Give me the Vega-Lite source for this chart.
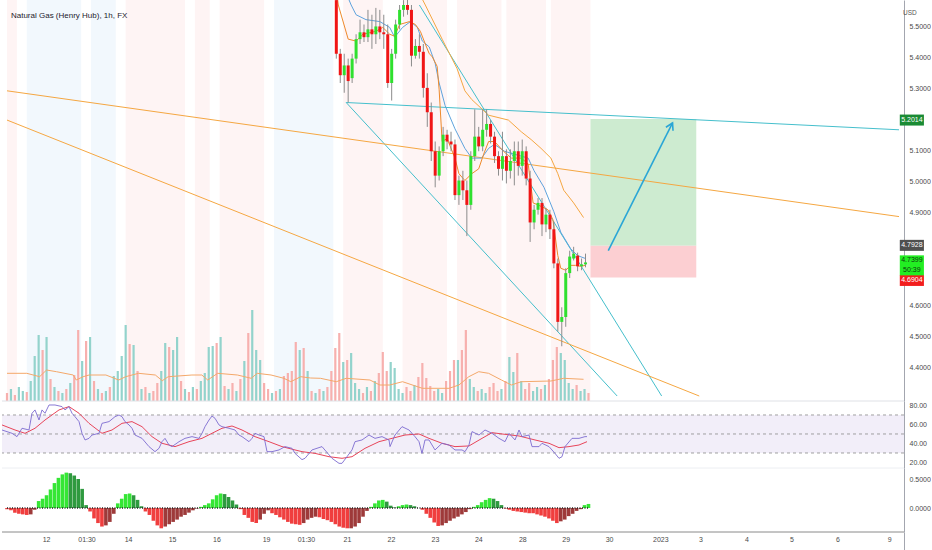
{
  "$schema": "https://vega.github.io/schema/vega-lite/v6.json",
  "description": "Natural Gas (Henry Hub) 1h chart with volume, RSI and momentum panels",
  "padding": 0,
  "background": "#ffffff",
  "spacing": 0,
  "bounds": "flush",
  "config": {
    "view": {"stroke": null},
    "font": "Liberation Sans",
    "axis": {"labelFont": "Liberation Sans", "labelFontSize": 7, "labelColor": "#4a4a4a", "ticks": false, "grid": false, "domainColor": "#a3a6af", "labelPadding": 5}
  },
  "resolve": {"scale": {"y": "independent", "x": "independent"}},
  "datasets": {
    "bg": [
      {"a": 0, "b": 5, "k": "p"}, {"a": 10, "b": 37.5, "k": "b"}, {"a": 42.5, "b": 55, "k": "b"},
      {"a": 60, "b": 90, "k": "p"}, {"a": 95, "b": 102.5, "k": "p"}, {"a": 107.5, "b": 130, "k": "p"},
      {"a": 135, "b": 165, "k": "b"}, {"a": 170, "b": 190, "k": "p"}, {"a": 200, "b": 222.5, "k": "p"},
      {"a": 227.5, "b": 250, "k": "p"}, {"a": 252.5, "b": 272.5, "k": "p"}, {"a": 275, "b": 295, "k": "p"}
    ],
    "bars": [
      {"h":0,"v":8,"d":"d","m":-0.02,"c":"rd"},{"h":2,"v":12,"d":"u","m":-0.04,"c":"rd"},{"h":4,"v":6,"d":"d","m":-0.08,"c":"rd"},
      {"h":6,"v":14,"d":"u","m":-0.10,"c":"rd"},{"h":8,"v":10,"d":"u","m":-0.11,"c":"rd"},{"h":10,"v":9,"d":"d","m":-0.12,"c":"rd"},
      {"h":12,"v":20,"d":"u","m":-0.11,"c":"ru"},{"h":14,"v":45,"d":"u","m":-0.03,"c":"ru"},{"h":16,"v":66,"d":"u","m":0.12,"c":"gu"},
      {"h":18,"v":51,"d":"d","m":0.16,"c":"gu"},{"h":20,"v":64,"d":"u","m":0.22,"c":"gu"},{"h":22,"v":22,"d":"d","m":0.32,"c":"gu"},
      {"h":24,"v":14,"d":"u","m":0.43,"c":"gu"},{"h":26,"v":10,"d":"d","m":0.52,"c":"gu"},{"h":28,"v":8,"d":"u","m":0.58,"c":"gu"},
      {"h":30,"v":12,"d":"d","m":0.61,"c":"gu"},{"h":32,"v":18,"d":"u","m":0.60,"c":"gd"},{"h":34,"v":26,"d":"d","m":0.56,"c":"gd"},
      {"h":36,"v":71,"d":"d","m":0.50,"c":"gd"},{"h":38,"v":40,"d":"u","m":0.33,"c":"gd"},{"h":40,"v":60,"d":"d","m":0.05,"c":"gd"},
      {"h":42,"v":64,"d":"u","m":-0.06,"c":"rd"},{"h":44,"v":20,"d":"d","m":-0.18,"c":"rd"},{"h":46,"v":12,"d":"u","m":-0.26,"c":"rd"},
      {"h":48,"v":8,"d":"d","m":-0.32,"c":"rd"},{"h":50,"v":10,"d":"u","m":-0.30,"c":"ru"},{"h":52,"v":14,"d":"d","m":-0.24,"c":"ru"},
      {"h":54,"v":25,"d":"u","m":-0.10,"c":"ru"},{"h":56,"v":30,"d":"u","m":0.08,"c":"gu"},{"h":58,"v":45,"d":"u","m":0.16,"c":"gu"},
      {"h":60,"v":76,"d":"u","m":0.24,"c":"gu"},{"h":62,"v":57,"d":"d","m":0.25,"c":"gu"},{"h":64,"v":56,"d":"u","m":0.22,"c":"gd"},
      {"h":66,"v":30,"d":"d","m":0.14,"c":"gd"},{"h":68,"v":12,"d":"u","m":0.03,"c":"gd"},{"h":70,"v":14,"d":"d","m":-0.06,"c":"rd"},
      {"h":72,"v":8,"d":"u","m":-0.12,"c":"rd"},{"h":74,"v":10,"d":"d","m":-0.22,"c":"rd"},{"h":76,"v":18,"d":"d","m":-0.30,"c":"rd"},
      {"h":78,"v":30,"d":"u","m":-0.35,"c":"rd"},{"h":80,"v":58,"d":"u","m":-0.32,"c":"ru"},{"h":82,"v":54,"d":"d","m":-0.28,"c":"ru"},
      {"h":84,"v":51,"d":"u","m":-0.24,"c":"ru"},{"h":86,"v":64,"d":"u","m":-0.20,"c":"ru"},{"h":88,"v":20,"d":"d","m":-0.15,"c":"ru"},
      {"h":90,"v":12,"d":"u","m":-0.12,"c":"ru"},{"h":92,"v":9,"d":"d","m":-0.08,"c":"ru"},{"h":94,"v":14,"d":"u","m":-0.04,"c":"ru"},
      {"h":96,"v":12,"d":"d","m":-0.01,"c":"ru"},{"h":98,"v":20,"d":"u","m":0.02,"c":"gu"},{"h":100,"v":28,"d":"u","m":0.05,"c":"gu"},
      {"h":102,"v":54,"d":"u","m":0.08,"c":"gu"},{"h":104,"v":55,"d":"u","m":0.15,"c":"gu"},{"h":106,"v":58,"d":"d","m":0.22,"c":"gu"},
      {"h":108,"v":64,"d":"u","m":0.25,"c":"gu"},{"h":110,"v":15,"d":"d","m":0.24,"c":"gd"},{"h":112,"v":12,"d":"u","m":0.19,"c":"gd"},
      {"h":114,"v":18,"d":"d","m":0.13,"c":"gd"},{"h":116,"v":10,"d":"u","m":0.06,"c":"gd"},{"h":118,"v":22,"d":"d","m":-0.02,"c":"rd"},
      {"h":120,"v":40,"d":"u","m":-0.12,"c":"rd"},{"h":122,"v":68,"d":"d","m":-0.17,"c":"rd"},{"h":124,"v":91,"d":"u","m":-0.24,"c":"rd"},
      {"h":126,"v":51,"d":"u","m":-0.26,"c":"rd"},{"h":128,"v":41,"d":"u","m":-0.20,"c":"ru"},{"h":130,"v":18,"d":"d","m":-0.10,"c":"ru"},
      {"h":132,"v":12,"d":"d","m":-0.04,"c":"ru"},{"h":134,"v":8,"d":"u","m":-0.09,"c":"rd"},{"h":136,"v":10,"d":"d","m":-0.12,"c":"rd"},
      {"h":138,"v":12,"d":"u","m":-0.16,"c":"rd"},{"h":140,"v":25,"d":"d","m":-0.20,"c":"rd"},{"h":142,"v":28,"d":"d","m":-0.24,"c":"rd"},
      {"h":144,"v":30,"d":"d","m":-0.27,"c":"rd"},{"h":146,"v":59,"d":"d","m":-0.28,"c":"rd"},{"h":148,"v":51,"d":"u","m":-0.29,"c":"rd"},
      {"h":150,"v":53,"d":"d","m":-0.26,"c":"ru"},{"h":152,"v":30,"d":"u","m":-0.20,"c":"ru"},{"h":154,"v":10,"d":"d","m":-0.17,"c":"ru"},
      {"h":156,"v":8,"d":"u","m":-0.15,"c":"ru"},{"h":158,"v":12,"d":"d","m":-0.16,"c":"rd"},{"h":160,"v":10,"d":"u","m":-0.19,"c":"rd"},
      {"h":162,"v":14,"d":"d","m":-0.21,"c":"rd"},{"h":164,"v":30,"d":"d","m":-0.24,"c":"rd"},{"h":166,"v":53,"d":"d","m":-0.28,"c":"rd"},
      {"h":168,"v":68,"d":"d","m":-0.32,"c":"rd"},{"h":170,"v":39,"d":"u","m":-0.34,"c":"rd"},{"h":172,"v":41,"d":"d","m":-0.35,"c":"rd"},
      {"h":174,"v":48,"d":"u","m":-0.35,"c":"ru"},{"h":176,"v":18,"d":"u","m":-0.32,"c":"ru"},{"h":178,"v":12,"d":"u","m":-0.26,"c":"ru"},
      {"h":180,"v":8,"d":"d","m":-0.15,"c":"ru"},{"h":182,"v":14,"d":"u","m":-0.05,"c":"ru"},{"h":184,"v":10,"d":"d","m":0.02,"c":"gu"},
      {"h":186,"v":20,"d":"u","m":0.08,"c":"gu"},{"h":188,"v":28,"d":"d","m":0.13,"c":"gu"},{"h":190,"v":49,"d":"d","m":0.14,"c":"gu"},
      {"h":192,"v":30,"d":"d","m":0.11,"c":"gd"},{"h":194,"v":39,"d":"u","m":0.04,"c":"gd"},{"h":196,"v":33,"d":"u","m":0.01,"c":"gd"},
      {"h":198,"v":12,"d":"u","m":0.03,"c":"gu"},{"h":200,"v":8,"d":"u","m":0.05,"c":"gu"},{"h":202,"v":14,"d":"d","m":0.06,"c":"gu"},
      {"h":204,"v":10,"d":"d","m":0.05,"c":"gd"},{"h":206,"v":16,"d":"u","m":0.03,"c":"gd"},{"h":208,"v":24,"d":"d","m":0.0,"c":"gd"},
      {"h":210,"v":38,"d":"d","m":-0.03,"c":"rd"},{"h":212,"v":23,"d":"d","m":-0.10,"c":"rd"},{"h":214,"v":15,"d":"d","m":-0.17,"c":"rd"},
      {"h":216,"v":10,"d":"d","m":-0.25,"c":"rd"},{"h":218,"v":12,"d":"u","m":-0.31,"c":"rd"},{"h":220,"v":8,"d":"u","m":-0.30,"c":"ru"},
      {"h":222,"v":20,"d":"d","m":-0.26,"c":"ru"},{"h":224,"v":30,"d":"d","m":-0.22,"c":"ru"},{"h":226,"v":41,"d":"d","m":-0.18,"c":"ru"},
      {"h":228,"v":41,"d":"u","m":-0.15,"c":"ru"},{"h":230,"v":51,"d":"d","m":-0.11,"c":"ru"},{"h":232,"v":71,"d":"d","m":-0.07,"c":"ru"},
      {"h":234,"v":22,"d":"u","m":-0.02,"c":"ru"},{"h":236,"v":14,"d":"u","m":0.02,"c":"gu"},{"h":238,"v":10,"d":"d","m":0.05,"c":"gu"},
      {"h":240,"v":12,"d":"u","m":0.10,"c":"gu"},{"h":242,"v":8,"d":"u","m":0.14,"c":"gu"},{"h":244,"v":14,"d":"d","m":0.17,"c":"gu"},
      {"h":246,"v":18,"d":"d","m":0.16,"c":"gd"},{"h":248,"v":10,"d":"d","m":0.12,"c":"gd"},{"h":250,"v":12,"d":"u","m":0.05,"c":"gd"},
      {"h":252,"v":20,"d":"d","m":-0.01,"c":"rd"},{"h":254,"v":44,"d":"u","m":-0.03,"c":"rd"},{"h":256,"v":29,"d":"u","m":-0.05,"c":"rd"},
      {"h":258,"v":48,"d":"d","m":-0.06,"c":"rd"},{"h":260,"v":20,"d":"u","m":-0.07,"c":"rd"},{"h":262,"v":12,"d":"d","m":-0.08,"c":"rd"},
      {"h":264,"v":18,"d":"d","m":-0.09,"c":"rd"},{"h":266,"v":10,"d":"u","m":-0.09,"c":"rd"},{"h":268,"v":14,"d":"u","m":-0.11,"c":"rd"},
      {"h":270,"v":12,"d":"d","m":-0.13,"c":"rd"},{"h":272,"v":16,"d":"u","m":-0.15,"c":"rd"},{"h":274,"v":22,"d":"d","m":-0.18,"c":"rd"},
      {"h":276,"v":41,"d":"d","m":-0.22,"c":"rd"},{"h":278,"v":54,"d":"d","m":-0.26,"c":"rd"},{"h":280,"v":48,"d":"u","m":-0.23,"c":"ru"},
      {"h":282,"v":41,"d":"u","m":-0.20,"c":"ru"},{"h":284,"v":18,"d":"u","m":-0.14,"c":"ru"},{"h":286,"v":12,"d":"u","m":-0.10,"c":"ru"},
      {"h":288,"v":16,"d":"d","m":-0.05,"c":"ru"},{"h":290,"v":10,"d":"u","m":-0.02,"c":"ru"},{"h":292,"v":12,"d":"u","m":0.05,"c":"gu"},
      {"h":294,"v":8,"d":"d","m":0.07,"c":"gu"}
    ],
    "vma": [
      {"h":0,"vm":27.7},{"h":10,"vm":27.7},{"h":16.5,"vm":24.3},{"h":20,"vm":31},{"h":25,"vm":29.3},{"h":33.5,"vm":26},
      {"h":35,"vm":21},{"h":38.5,"vm":24.3},{"h":41.5,"vm":26},{"h":50,"vm":26},{"h":56.5,"vm":21},{"h":60,"vm":24.3},
      {"h":66.5,"vm":27.7},{"h":75,"vm":26},{"h":78.5,"vm":20.3},{"h":81.5,"vm":24.3},{"h":93.5,"vm":26},{"h":98.5,"vm":26},
      {"h":101.5,"vm":21},{"h":106.5,"vm":27.7},{"h":116.5,"vm":26},{"h":123.5,"vm":22.7},{"h":126.5,"vm":27.7},{"h":133.5,"vm":26},
      {"h":140,"vm":22.7},{"h":143.5,"vm":19.3},{"h":148.5,"vm":24.3},{"h":153.5,"vm":23},{"h":158.5,"vm":22.7},{"h":166.5,"vm":19.3},
      {"h":171.5,"vm":22.7},{"h":183.5,"vm":21},{"h":188.5,"vm":16},{"h":193.5,"vm":16},{"h":200,"vm":19.3},{"h":206.5,"vm":15},
      {"h":210,"vm":12.7},{"h":223.5,"vm":12.7},{"h":228.5,"vm":16},{"h":233.5,"vm":24.3},{"h":238.5,"vm":29.3},{"h":243.5,"vm":27.7},
      {"h":250,"vm":21},{"h":255,"vm":16},{"h":260,"vm":19.3},{"h":275,"vm":20},{"h":281.5,"vm":22.7},{"h":291.5,"vm":21.7}
    ],
    "ohlc": [
      {"h":166.5,"o":5.5849,"hi":5.6007,"lo":5.3962,"c":5.4119},{"h":168.5,"o":5.4119,"hi":5.4277,"lo":5.3176,"c":5.3427},
      {"h":170.5,"o":5.3427,"hi":5.4119,"lo":5.2861,"c":5.3742},{"h":172.5,"o":5.3742,"hi":5.3962,"lo":5.2546,"c":5.3238},
      {"h":174.5,"o":5.3333,"hi":5.4119,"lo":5.3176,"c":5.3962},{"h":176.5,"o":5.3962,"hi":5.4748,"lo":5.3805,"c":5.4591},
      {"h":178.5,"o":5.4591,"hi":5.5220,"lo":5.4434,"c":5.4811},{"h":180.5,"o":5.4811,"hi":5.5063,"lo":5.4497,"c":5.4654},
      {"h":182.5,"o":5.4654,"hi":5.5535,"lo":5.4497,"c":5.4906},{"h":184.5,"o":5.4906,"hi":5.5377,"lo":5.4277,"c":5.4748},
      {"h":186.5,"o":5.4748,"hi":5.5598,"lo":5.4434,"c":5.5000},{"h":188.5,"o":5.5000,"hi":5.5535,"lo":5.4591,"c":5.4811},
      {"h":190.5,"o":5.4811,"hi":5.5377,"lo":5.4277,"c":5.4748},{"h":192.5,"o":5.4748,"hi":5.5063,"lo":5.3018,"c":5.3176},
      {"h":194.5,"o":5.3176,"hi":5.4277,"lo":5.2609,"c":5.4119},{"h":196.5,"o":5.4119,"hi":5.5220,"lo":5.3962,"c":5.5063},
      {"h":198.5,"o":5.5063,"hi":5.5692,"lo":5.4906,"c":5.5535},{"h":200.5,"o":5.5535,"hi":5.5849,"lo":5.5315,"c":5.5692},
      {"h":202.5,"o":5.5692,"hi":5.5944,"lo":5.5377,"c":5.5535},{"h":204.5,"o":5.5535,"hi":5.5692,"lo":5.3710,"c":5.4056},
      {"h":206.5,"o":5.4056,"hi":5.4591,"lo":5.3962,"c":5.4371},{"h":208.5,"o":5.4371,"hi":5.4748,"lo":5.3962,"c":5.4182},
      {"h":210.5,"o":5.4182,"hi":5.4434,"lo":5.2704,"c":5.3018},{"h":212.5,"o":5.3018,"hi":5.3490,"lo":5.1760,"c":5.2232},
      {"h":214.5,"o":5.2232,"hi":5.2546,"lo":5.0659,"c":5.0974},{"h":216.5,"o":5.0974,"hi":5.1288,"lo":4.9810,"c":5.0187},
      {"h":218.5,"o":5.0187,"hi":5.1131,"lo":5.0030,"c":5.0974},{"h":220.5,"o":5.0974,"hi":5.1760,"lo":5.0816,"c":5.1508},
      {"h":222.5,"o":5.1508,"hi":5.1666,"lo":5.1037,"c":5.1288},{"h":224.5,"o":5.1288,"hi":5.1603,"lo":5.0974,"c":5.1194},
      {"h":226.5,"o":5.1194,"hi":5.1351,"lo":4.9401,"c":4.9558},{"h":228.5,"o":4.9558,"hi":5.0187,"lo":4.9243,"c":5.0030},
      {"h":230.5,"o":5.0030,"hi":5.0344,"lo":4.9401,"c":4.9715},{"h":232.5,"o":4.9715,"hi":5.0030,"lo":4.8237,"c":4.9243},
      {"h":234.5,"o":4.9243,"hi":5.0974,"lo":4.9086,"c":5.0816},{"h":236.5,"o":5.0816,"hi":5.2326,"lo":5.0659,"c":5.1445},
      {"h":238.5,"o":5.1445,"hi":5.1760,"lo":5.0974,"c":5.1131},{"h":240.5,"o":5.1131,"hi":5.2326,"lo":5.0974,"c":5.1666},
      {"h":242.5,"o":5.1666,"hi":5.2326,"lo":5.1445,"c":5.1854},{"h":244.5,"o":5.1854,"hi":5.1980,"lo":5.1225,"c":5.1445},
      {"h":246.5,"o":5.1445,"hi":5.1603,"lo":5.0596,"c":5.0816},{"h":248.5,"o":5.0816,"hi":5.0974,"lo":5.0187,"c":5.0407},
      {"h":250.5,"o":5.0407,"hi":5.1603,"lo":5.0030,"c":5.0816},{"h":252.5,"o":5.0816,"hi":5.1037,"lo":4.9936,"c":5.0344},
      {"h":254.5,"o":5.0344,"hi":5.1037,"lo":5.0093,"c":5.0659},{"h":256.5,"o":5.0659,"hi":5.1288,"lo":4.9873,"c":5.0974},
      {"h":258.5,"o":5.0974,"hi":5.1288,"lo":5.0187,"c":5.0502},{"h":260.5,"o":5.0502,"hi":5.1351,"lo":5.0187,"c":5.0974},
      {"h":262.5,"o":5.0974,"hi":5.1131,"lo":4.9873,"c":5.0093},{"h":264.5,"o":5.0093,"hi":5.0344,"lo":4.8048,"c":4.8677},
      {"h":266.5,"o":4.8677,"hi":4.9243,"lo":4.8457,"c":4.9086},{"h":268.5,"o":4.9086,"hi":4.9464,"lo":4.8929,"c":4.9307},
      {"h":270.5,"o":4.9307,"hi":4.9464,"lo":4.8237,"c":4.8614},{"h":272.5,"o":4.8614,"hi":4.9149,"lo":4.8363,"c":4.8929},
      {"h":274.5,"o":4.8929,"hi":4.9086,"lo":4.8143,"c":4.8457},{"h":276.5,"o":4.8457,"hi":4.8709,"lo":4.7199,"c":4.7356},
      {"h":278.5,"o":4.7356,"hi":4.7513,"lo":4.5154,"c":4.5469},{"h":280.5,"o":4.5469,"hi":4.5940,"lo":4.4682,"c":4.5626},
      {"h":282.5,"o":4.5626,"hi":4.7199,"lo":4.5311,"c":4.7042},{"h":284.5,"o":4.7042,"hi":4.7765,"lo":4.6884,"c":4.7576},
      {"h":286.5,"o":4.7513,"hi":4.7891,"lo":4.7450,"c":4.7671},{"h":288.5,"o":4.7608,"hi":4.7702,"lo":4.7104,"c":4.7262},
      {"h":290.5,"o":4.7262,"hi":4.7513,"lo":4.7136,"c":4.7325},{"h":292.5,"o":4.7325,"hi":4.7671,"lo":4.7230,"c":4.7387}
    ],
    "vwap": [
      {"h":166.5,"p":5.62},{"h":167.5,"p":5.5692},{"h":172.5,"p":5.4591},{"h":176.5,"p":5.4528},{"h":180,"p":5.4748},
      {"h":186.5,"p":5.4843},{"h":190,"p":5.4969},{"h":193.5,"p":5.4748},{"h":196,"p":5.4685},{"h":198.5,"p":5.5063},
      {"h":203.5,"p":5.5157},{"h":206.5,"p":5.5063},{"h":209,"p":5.4843},{"h":211.5,"p":5.4434},{"h":213.5,"p":5.4119},
      {"h":215,"p":5.4025},{"h":217.5,"p":5.3710},{"h":218.5,"p":5.2955},{"h":220,"p":5.1288},{"h":222.5,"p":5.1383},
      {"h":226.5,"p":5.0753},{"h":228.5,"p":5.0250},{"h":231.5,"p":5.0030},{"h":235,"p":5.0250},{"h":238.5,"p":5.0407},
      {"h":241,"p":5.0879},{"h":243.5,"p":5.1288},{"h":246.5,"p":5.1288},{"h":251,"p":5.0974},{"h":255,"p":5.0753},
      {"h":260,"p":5.0753},{"h":263.5,"p":5.0565},{"h":266,"p":4.9307},{"h":268.5,"p":4.9243},{"h":273.5,"p":4.9086},
      {"h":276,"p":4.8772},{"h":278.5,"p":4.7608},{"h":280,"p":4.7199},{"h":282.5,"p":4.7136},{"h":285,"p":4.7293},
      {"h":287.5,"p":4.7293},{"h":290,"p":4.7262},{"h":292.5,"p":4.7293}
    ],
    "ema": [
      {"h":172,"p":5.60},{"h":174,"p":5.5692},{"h":176.5,"p":5.5377},{"h":181.5,"p":5.5220},{"h":188.5,"p":5.5157},
      {"h":193.5,"p":5.4969},{"h":196,"p":5.4654},{"h":200,"p":5.4969},{"h":204,"p":5.5157},{"h":207.5,"p":5.4969},
      {"h":210,"p":5.4528},{"h":213.5,"p":5.4339},{"h":216.5,"p":5.3805},{"h":218.5,"p":5.3176},{"h":221.5,"p":5.2452},
      {"h":226.5,"p":5.1697},{"h":231.5,"p":5.1068},{"h":235,"p":5.0753},{"h":240,"p":5.0753},{"h":243.5,"p":5.1068},
      {"h":246.5,"p":5.1194},{"h":251.5,"p":5.0974},{"h":256.5,"p":5.0879},{"h":263.5,"p":5.0753},{"h":266.5,"p":5.0344},
      {"h":271.5,"p":4.9810},{"h":276.5,"p":4.9023},{"h":280,"p":4.8363},{"h":285,"p":4.7828},{"h":288.5,"p":4.7608},
      {"h":292.5,"p":4.7513}
    ],
    "sma": [
      {"h":205,"p":5.65},{"h":211.5,"p":5.5692},{"h":220,"p":5.4591},{"h":227.5,"p":5.3647},{"h":231.5,"p":5.2924},
      {"h":235,"p":5.2641},{"h":243.5,"p":5.2137},{"h":253.5,"p":5.1980},{"h":260,"p":5.1603},{"h":265,"p":5.1351},
      {"h":270,"p":5.1068},{"h":275,"p":5.0753},{"h":278.5,"p":5.0250},{"h":281.5,"p":4.9715},{"h":286.5,"p":4.9307},
      {"h":291.5,"p":4.8835}
    ],
    "lines": [
      {"g":"t1","k":"t","h":171.5,"p":5.2546},{"g":"t1","k":"t","h":451,"p":5.1666},
      {"g":"t2","k":"t","h":171.5,"p":5.2546},{"g":"t2","k":"t","h":308.5,"p":4.3078},
      {"g":"t3","k":"t","h":208.5,"p":5.5692},{"g":"t3","k":"t","h":331,"p":4.3078},
      {"g":"o1","k":"o","h":0,"p":5.2924},{"g":"o1","k":"o","h":451,"p":4.8866},
      {"g":"o2","k":"o","h":0,"p":5.1980},{"g":"o2","k":"o","h":350,"p":4.3078},
      {"g":"a1","k":"a","h":304,"p":4.7765},{"g":"a1","k":"a","h":336.5,"p":5.1886},
      {"g":"a2","k":"a","h":333.15,"p":5.1747},{"g":"a2","k":"a","h":336.5,"p":5.1886},{"g":"a2","k":"a","h":336.75,"p":5.1634}
    ],
    "zones": [
      {"a":295,"b":348.5,"lo":4.7928,"hi":5.2014,"k":"tp"},
      {"a":295,"b":348.5,"lo":4.6904,"hi":4.7928,"k":"sl"}
    ],
    "tags": [
      {"p":5.1980,"k":"tp","s":"one"},{"p":4.7938,"k":"en","s":"one"},{"p":4.7293,"k":"cur","s":"two"},{"p":4.6806,"k":"sl","s":"one"}
    ],
    "tagtext": [
      {"p":5.1980,"t":"5.2014","k":"tp"},{"p":4.7938,"t":"4.7928","k":"en"},{"p":4.7450,"t":"4.7399","k":"cur"},
      {"p":4.7136,"t":"50:39","k":"cur"},{"p":4.6806,"t":"4.6904","k":"sl"}
    ],
    "rsi": [
      {"h":0,"r":54.2},{"h":5,"r":50.7},{"h":7.5,"r":47.2},{"h":10,"r":56},{"h":13.5,"r":54.2},{"h":15,"r":71.8},
      {"h":16.5,"r":75.3},{"h":18.5,"r":64.7},{"h":20,"r":75.3},{"h":21.5,"r":71.8},{"h":23.5,"r":80.5},{"h":26.5,"r":80.5},
      {"h":30,"r":78.8},{"h":31.5,"r":75.3},{"h":33.5,"r":78.8},{"h":35,"r":71.8},{"h":36.5,"r":68.2},{"h":38.5,"r":63},
      {"h":40,"r":50.7},{"h":41.5,"r":43.7},{"h":43.5,"r":45.4},{"h":45,"r":48.9},{"h":48.5,"r":50.7},{"h":50,"r":61.2},
      {"h":53.5,"r":63},{"h":56.5,"r":68.2},{"h":58.5,"r":70},{"h":60,"r":68.2},{"h":61.5,"r":63},{"h":63.5,"r":59.5},
      {"h":65,"r":56},{"h":66.5,"r":48.9},{"h":70,"r":45.4},{"h":73.5,"r":36.7},{"h":76.5,"r":31.4},{"h":78.5,"r":34.9},
      {"h":80,"r":41.9},{"h":81.5,"r":45.4},{"h":83.5,"r":38.4},{"h":85,"r":36.7},{"h":88.5,"r":41.9},{"h":91.5,"r":45.4},
      {"h":95,"r":47.2},{"h":98.5,"r":45.4},{"h":100,"r":50.7},{"h":101.5,"r":57.7},{"h":103.5,"r":64.7},{"h":105,"r":68.9},
      {"h":106.5,"r":66.5},{"h":108.5,"r":59.5},{"h":110,"r":57.7},{"h":113.5,"r":56},{"h":116.5,"r":54.2},{"h":118.5,"r":48.9},
      {"h":120,"r":47.2},{"h":123.5,"r":41.9},{"h":125,"r":45.4},{"h":126.5,"r":50.7},{"h":128.5,"r":48.9},{"h":131,"r":47.2},
      {"h":132.5,"r":31.4},{"h":135,"r":31.4},{"h":138.5,"r":33.2},{"h":141.5,"r":36.7},{"h":145,"r":34.9},{"h":146.5,"r":29.6},
      {"h":150,"r":23},{"h":151.5,"r":24.4},{"h":155,"r":33.2},{"h":160,"r":36.7},{"h":165,"r":24.4},{"h":168.5,"r":19.1},
      {"h":170,"r":19.1},{"h":175,"r":33.2},{"h":176.5,"r":41.9},{"h":180,"r":43.7},{"h":183.5,"r":48.9},{"h":186.5,"r":45.4},
      {"h":190,"r":47.2},{"h":193.5,"r":43.7},{"h":194,"r":36.7},{"h":196.5,"r":48.9},{"h":200,"r":57.7},{"h":203.5,"r":54.2},
      {"h":206.5,"r":47.2},{"h":208.5,"r":41.9},{"h":210,"r":29.6},{"h":211.5,"r":43.7},{"h":213.5,"r":43.7},{"h":216.5,"r":33.2},
      {"h":220,"r":40.2},{"h":223.5,"r":38.4},{"h":226.5,"r":33.2},{"h":230,"r":33.2},{"h":231.5,"r":31.4},{"h":233.5,"r":38.4},
      {"h":235,"r":52.5},{"h":238.5,"r":48.9},{"h":241.5,"r":54.2},{"h":245,"r":50.7},{"h":248.5,"r":45.4},{"h":251.5,"r":41.9},
      {"h":253.5,"r":50.7},{"h":256.5,"r":43.7},{"h":258.5,"r":54.2},{"h":260,"r":47.2},{"h":263.5,"r":48.9},{"h":265,"r":36.7},
      {"h":268.5,"r":36.7},{"h":270,"r":40.2},{"h":273.5,"r":36.7},{"h":276.5,"r":29.6},{"h":278.5,"r":24.4},{"h":280,"r":26.1},
      {"h":281.5,"r":36.7},{"h":285,"r":45.4},{"h":288.5,"r":45.4},{"h":291.5,"r":47.2},{"h":292.5,"r":47.2}
    ],
    "rsima": [
      {"h":0,"m":59.5},{"h":6.5,"m":54.2},{"h":11.5,"m":50.7},{"h":16.5,"m":56},{"h":21.5,"m":64.7},{"h":28.5,"m":75.3},
      {"h":33.5,"m":78.8},{"h":38.5,"m":71.8},{"h":43.5,"m":61.2},{"h":50,"m":50.7},{"h":55,"m":54.2},{"h":60,"m":61.2},
      {"h":65,"m":63},{"h":70,"m":57.7},{"h":75,"m":47.2},{"h":80,"m":40.2},{"h":86.5,"m":36.7},{"h":93.5,"m":41.9},
      {"h":100,"m":45.4},{"h":105,"m":50.7},{"h":110,"m":56},{"h":115,"m":58.4},{"h":120,"m":54.2},{"h":126.5,"m":47.2},
      {"h":133.5,"m":41.9},{"h":140,"m":36.7},{"h":146.5,"m":33.2},{"h":150,"m":31.4},{"h":156.5,"m":29.6},{"h":163.5,"m":26.1},
      {"h":170,"m":24.4},{"h":175,"m":26.1},{"h":181.5,"m":34.9},{"h":188.5,"m":41.9},{"h":195,"m":45.4},{"h":201.5,"m":48.9},
      {"h":208.5,"m":50},{"h":213.5,"m":45.4},{"h":220,"m":40.2},{"h":226.5,"m":36.7},{"h":233.5,"m":37.4},{"h":240,"m":45.4},
      {"h":245,"m":51.4},{"h":250,"m":50},{"h":258.5,"m":47.9},{"h":266.5,"m":43.7},{"h":273.5,"m":40.2},{"h":278.5,"m":35.6},
      {"h":283.5,"m":36.7},{"h":288.5,"m":38.4},{"h":292.5,"m":41.9}
    ],
    "xlab": [
      {"h":22.3,"t":"12"},{"h":42.5,"t":"01:30"},{"h":63.3,"t":"14"},{"h":85.3,"t":"15"},{"h":107.5,"t":"16"},
      {"h":132.3,"t":"19"},{"h":152.2,"t":"01:30"},{"h":172.7,"t":"21"},{"h":194.7,"t":"22"},{"h":216.7,"t":"23"},
      {"h":238.4,"t":"24"},{"h":260.4,"t":"28"},{"h":282.1,"t":"29"},{"h":303.8,"t":"30"},{"h":329.4,"t":"2023"},
      {"h":349.5,"t":"3"},{"h":372.5,"t":"4"},{"h":395,"t":"5"},{"h":418,"t":"6"},{"h":443.8,"t":"9"}
    ]
  },
  "vconcat": [
    {
      "width": 902,
      "height": 401,
      "layer": [
        {
          "data": {"name": "bg"},
          "mark": {"type": "rect"},
          "encoding": {
            "x": {"field": "a", "type": "quantitative", "scale": {"domain": [0, 451], "nice": false, "zero": false}, "axis": null},
            "x2": {"field": "b"},
            "color": {"condition": {"test": "datum.k == 'p'", "value": "#fef4f4"}, "value": "#f2f8fd"}
          }
        },
        {
          "layer": [
            {
              "data": {"name": "bars"},
              "mark": {"type": "bar", "orient": "vertical", "size": 2.2},
              "encoding": {
                "x": {"field": "h", "type": "quantitative", "scale": {"domain": [0, 451], "nice": false, "zero": false}, "axis": null},
                "y": {"field": "v", "type": "quantitative", "scale": {"domain": [0, 401], "nice": false}, "axis": null},
                "color": {"condition": {"test": "datum.d == 'u'", "value": "#93d3cc"}, "value": "#f7b0ae"}
              }
            },
            {
              "data": {"name": "vma"},
              "mark": {"type": "line", "color": "#f4a86a", "strokeWidth": 1},
              "encoding": {
                "x": {"field": "h", "type": "quantitative", "scale": {"domain": [0, 451], "nice": false, "zero": false}, "axis": null},
                "y": {"field": "vm", "type": "quantitative", "scale": {"domain": [0, 401], "nice": false}, "axis": null}
              }
            }
          ]
        },
        {
          "layer": [
            {
              "data": {"name": "zones"},
              "mark": {"type": "rect"},
              "encoding": {
                "x": {"field": "a", "type": "quantitative", "scale": {"domain": [0, 451], "nice": false, "zero": false}, "axis": null},
                "x2": {"field": "b"},
                "y": {"field": "hi", "type": "quantitative", "scale": {"domain": [4.3078, 5.5692], "nice": false, "zero": false},
                      "axis": {"orient": "right", "values": [4.4, 4.5, 4.6, 4.9, 5.0, 5.1, 5.3, 5.4, 5.5], "format": ".4f", "title": null}},
                "y2": {"field": "lo"},
                "color": {"condition": {"test": "datum.k == 'tp'", "value": "#cdebd0"}, "value": "#fccfd2"}
              }
            },
            {
              "data": {"name": "lines"},
              "transform": [{"filter": "datum.k == 't'"}],
              "mark": {"type": "line", "color": "#45bfcc", "strokeWidth": 1, "clip": true},
              "encoding": {
                "x": {"field": "h", "type": "quantitative", "scale": {"domain": [0, 451], "nice": false, "zero": false}, "axis": null},
                "y": {"field": "p", "type": "quantitative", "scale": {"domain": [4.3078, 5.5692], "nice": false, "zero": false},
                      "axis": {"orient": "right", "values": [4.4, 4.5, 4.6, 4.9, 5.0, 5.1, 5.3, 5.4, 5.5], "format": ".4f", "title": null}},
                "detail": {"field": "g"}
              }
            },
            {
              "data": {"name": "lines"},
              "transform": [{"filter": "datum.k == 'o'"}],
              "mark": {"type": "line", "color": "#f5a742", "strokeWidth": 1, "clip": true},
              "encoding": {
                "x": {"field": "h", "type": "quantitative", "scale": {"domain": [0, 451], "nice": false, "zero": false}, "axis": null},
                "y": {"field": "p", "type": "quantitative", "scale": {"domain": [4.3078, 5.5692], "nice": false, "zero": false},
                      "axis": {"orient": "right", "values": [4.4, 4.5, 4.6, 4.9, 5.0, 5.1, 5.3, 5.4, 5.5], "format": ".4f", "title": null}},
                "detail": {"field": "g"}
              }
            },
            {
              "data": {"name": "sma"},
              "mark": {"type": "line", "color": "#f5a742", "strokeWidth": 1, "clip": true},
              "encoding": {
                "x": {"field": "h", "type": "quantitative", "scale": {"domain": [0, 451], "nice": false, "zero": false}, "axis": null},
                "y": {"field": "p", "type": "quantitative", "scale": {"domain": [4.3078, 5.5692], "nice": false, "zero": false},
                      "axis": {"orient": "right", "values": [4.4, 4.5, 4.6, 4.9, 5.0, 5.1, 5.3, 5.4, 5.5], "format": ".4f", "title": null}}
              }
            },
            {
              "data": {"name": "ema"},
              "mark": {"type": "line", "color": "#5fa3dd", "strokeWidth": 1, "clip": true},
              "encoding": {
                "x": {"field": "h", "type": "quantitative", "scale": {"domain": [0, 451], "nice": false, "zero": false}, "axis": null},
                "y": {"field": "p", "type": "quantitative", "scale": {"domain": [4.3078, 5.5692], "nice": false, "zero": false},
                      "axis": {"orient": "right", "values": [4.4, 4.5, 4.6, 4.9, 5.0, 5.1, 5.3, 5.4, 5.5], "format": ".4f", "title": null}}
              }
            },
            {
              "data": {"name": "vwap"},
              "mark": {"type": "line", "color": "#ee8a2c", "strokeWidth": 1, "clip": true},
              "encoding": {
                "x": {"field": "h", "type": "quantitative", "scale": {"domain": [0, 451], "nice": false, "zero": false}, "axis": null},
                "y": {"field": "p", "type": "quantitative", "scale": {"domain": [4.3078, 5.5692], "nice": false, "zero": false},
                      "axis": {"orient": "right", "values": [4.4, 4.5, 4.6, 4.9, 5.0, 5.1, 5.3, 5.4, 5.5], "format": ".4f", "title": null}}
              }
            },
            {
              "data": {"name": "ohlc"},
              "mark": {"type": "rule", "color": "#8c8c8c", "strokeWidth": 1, "clip": true},
              "encoding": {
                "x": {"field": "h", "type": "quantitative", "scale": {"domain": [0, 451], "nice": false, "zero": false}, "axis": null},
                "y": {"field": "hi", "type": "quantitative", "scale": {"domain": [4.3078, 5.5692], "nice": false, "zero": false},
                      "axis": {"orient": "right", "values": [4.4, 4.5, 4.6, 4.9, 5.0, 5.1, 5.3, 5.4, 5.5], "format": ".4f", "title": null}},
                "y2": {"field": "lo"}
              }
            },
            {
              "data": {"name": "ohlc"},
              "mark": {"type": "bar", "orient": "vertical", "size": 3, "clip": true},
              "encoding": {
                "x": {"field": "h", "type": "quantitative", "scale": {"domain": [0, 451], "nice": false, "zero": false}, "axis": null},
                "y": {"field": "o", "type": "quantitative", "scale": {"domain": [4.3078, 5.5692], "nice": false, "zero": false},
                      "axis": {"orient": "right", "values": [4.4, 4.5, 4.6, 4.9, 5.0, 5.1, 5.3, 5.4, 5.5], "format": ".4f", "title": null}},
                "y2": {"field": "c"},
                "color": {"condition": {"test": "datum.c >= datum.o", "value": "#2fe02f"}, "value": "#f01515"}
              }
            },
            {
              "data": {"name": "lines"},
              "transform": [{"filter": "datum.k == 'a'"}],
              "mark": {"type": "line", "color": "#2aa6d6", "strokeWidth": 1.6, "clip": true},
              "encoding": {
                "x": {"field": "h", "type": "quantitative", "scale": {"domain": [0, 451], "nice": false, "zero": false}, "axis": null},
                "y": {"field": "p", "type": "quantitative", "scale": {"domain": [4.3078, 5.5692], "nice": false, "zero": false},
                      "axis": {"orient": "right", "values": [4.4, 4.5, 4.6, 4.9, 5.0, 5.1, 5.3, 5.4, 5.5], "format": ".4f", "title": null}},
                "detail": {"field": "g"}
              }
            },
            {
              "data": {"values": [{"h": 2, "p": 5.5346, "t": "Natural Gas (Henry Hub), 1h, FX"}]},
              "mark": {"type": "text", "align": "left", "baseline": "middle", "fontSize": 8, "color": "#1e222d"},
              "encoding": {
                "x": {"field": "h", "type": "quantitative", "scale": {"domain": [0, 451], "nice": false, "zero": false}, "axis": null},
                "y": {"field": "p", "type": "quantitative", "scale": {"domain": [4.3078, 5.5692], "nice": false, "zero": false},
                      "axis": {"orient": "right", "values": [4.4, 4.5, 4.6, 4.9, 5.0, 5.1, 5.3, 5.4, 5.5], "format": ".4f", "title": null}},
                "text": {"field": "t"}
              }
            },
            {
              "data": {"values": [{"h": 453, "p": 5.5440, "t": "USD"}]},
              "mark": {"type": "text", "align": "left", "baseline": "middle", "fontSize": 6.5, "color": "#555555"},
              "encoding": {
                "x": {"field": "h", "type": "quantitative", "scale": {"domain": [0, 451], "nice": false, "zero": false}, "axis": null},
                "y": {"field": "p", "type": "quantitative", "scale": {"domain": [4.3078, 5.5692], "nice": false, "zero": false},
                      "axis": {"orient": "right", "values": [4.4, 4.5, 4.6, 4.9, 5.0, 5.1, 5.3, 5.4, 5.5], "format": ".4f", "title": null}},
                "text": {"field": "t"}
              }
            },
            {
              "data": {"name": "tags"},
              "transform": [{"filter": "datum.s == 'one'"}],
              "mark": {"type": "bar", "orient": "horizontal", "size": 11},
              "encoding": {
                "x": {"datum": 451.4, "type": "quantitative", "scale": {"domain": [0, 451], "nice": false, "zero": false}, "axis": null},
                "x2": {"datum": 463.6},
                "y": {"field": "p", "type": "quantitative", "scale": {"domain": [4.3078, 5.5692], "nice": false, "zero": false},
                      "axis": {"orient": "right", "values": [4.4, 4.5, 4.6, 4.9, 5.0, 5.1, 5.3, 5.4, 5.5], "format": ".4f", "title": null}},
                "color": {"condition": [{"test": "datum.k == 'tp'", "value": "#1a8b34"}, {"test": "datum.k == 'en'", "value": "#4f4f4f"}], "value": "#f21d1d"}
              }
            },
            {
              "data": {"name": "tags"},
              "transform": [{"filter": "datum.s == 'two'"}],
              "mark": {"type": "bar", "orient": "horizontal", "size": 20, "color": "#22ee22"},
              "encoding": {
                "x": {"datum": 451.4, "type": "quantitative", "scale": {"domain": [0, 451], "nice": false, "zero": false}, "axis": null},
                "x2": {"datum": 463.6},
                "y": {"field": "p", "type": "quantitative", "scale": {"domain": [4.3078, 5.5692], "nice": false, "zero": false},
                      "axis": {"orient": "right", "values": [4.4, 4.5, 4.6, 4.9, 5.0, 5.1, 5.3, 5.4, 5.5], "format": ".4f", "title": null}}
              }
            },
            {
              "data": {"name": "tagtext"},
              "mark": {"type": "text", "align": "center", "baseline": "middle", "fontSize": 7},
              "encoding": {
                "x": {"datum": 457.5, "type": "quantitative", "scale": {"domain": [0, 451], "nice": false, "zero": false}, "axis": null},
                "y": {"field": "p", "type": "quantitative", "scale": {"domain": [4.3078, 5.5692], "nice": false, "zero": false},
                      "axis": {"orient": "right", "values": [4.4, 4.5, 4.6, 4.9, 5.0, 5.1, 5.3, 5.4, 5.5], "format": ".4f", "title": null}},
                "text": {"field": "t"},
                "color": {"condition": {"test": "datum.k == 'cur'", "value": "#0d3b0d"}, "value": "#ffffff"}
              }
            }
          ]
        }
      ],
      "resolve": {"scale": {"y": "independent"}}
    },
    {
      "width": 902,
      "height": 67,
      "layer": [
        {
          "data": {"values": [{"a": 30, "b": 70}]},
          "mark": {"type": "rect", "color": "#7e57c2", "opacity": 0.1},
          "encoding": {
            "y": {"field": "b", "type": "quantitative", "scale": {"domain": [14.2, 84.7], "nice": false, "zero": false},
                  "axis": {"orient": "right", "values": [20, 40, 60, 80], "format": ".2f", "title": null}},
            "y2": {"field": "a"}
          }
        },
        {
          "data": {"values": [{"l": 30}, {"l": 50}, {"l": 70}]},
          "mark": {"type": "rule", "color": "#8a8a8a", "strokeDash": [3, 3], "strokeWidth": 0.8},
          "encoding": {
            "y": {"field": "l", "type": "quantitative", "scale": {"domain": [14.2, 84.7], "nice": false, "zero": false},
                  "axis": {"orient": "right", "values": [20, 40, 60, 80], "format": ".2f", "title": null}}
          }
        },
        {
          "data": {"values": [{"l": 84.7}]},
          "mark": {"type": "rule", "color": "#dfe1e6", "strokeWidth": 1},
          "encoding": {
            "y": {"field": "l", "type": "quantitative", "scale": {"domain": [14.2, 84.7], "nice": false, "zero": false},
                  "axis": {"orient": "right", "values": [20, 40, 60, 80], "format": ".2f", "title": null}}
          }
        },
        {
          "data": {"name": "rsima"},
          "mark": {"type": "line", "color": "#e8455a", "strokeWidth": 1},
          "encoding": {
            "x": {"field": "h", "type": "quantitative", "scale": {"domain": [0, 451], "nice": false, "zero": false}, "axis": null},
            "y": {"field": "m", "type": "quantitative", "scale": {"domain": [14.2, 84.7], "nice": false, "zero": false},
                  "axis": {"orient": "right", "values": [20, 40, 60, 80], "format": ".2f", "title": null}}
          }
        },
        {
          "data": {"name": "rsi"},
          "mark": {"type": "line", "color": "#7d6bd0", "strokeWidth": 0.9},
          "encoding": {
            "x": {"field": "h", "type": "quantitative", "scale": {"domain": [0, 451], "nice": false, "zero": false}, "axis": null},
            "y": {"field": "r", "type": "quantitative", "scale": {"domain": [14.2, 84.7], "nice": false, "zero": false},
                  "axis": {"orient": "right", "values": [20, 40, 60, 80], "format": ".2f", "title": null}}
          }
        }
      ]
    },
    {
      "width": 902,
      "height": 64,
      "layer": [
        {
          "data": {"values": [{"l": 0.69}]},
          "mark": {"type": "rule", "color": "#eceef2", "strokeWidth": 1},
          "encoding": {
            "y": {"field": "l", "type": "quantitative", "scale": {"domain": [-0.414, 0.69], "nice": false, "zero": false},
                  "axis": {"orient": "right", "values": [0, 0.5], "format": ".4f", "title": null}}
          }
        },
        {
          "data": {"name": "bars"},
          "mark": {"type": "bar", "orient": "vertical", "size": 3.6},
          "encoding": {
            "x": {"field": "h", "type": "quantitative", "scale": {"domain": [0, 451], "nice": false, "zero": false}, "axis": null},
            "y": {"field": "m", "type": "quantitative", "scale": {"domain": [-0.414, 0.69], "nice": false, "zero": false},
                  "axis": {"orient": "right", "values": [0, 0.5], "format": ".4f", "title": null}},
            "color": {"condition": [
              {"test": "datum.c == 'gu'", "value": "#35e635"},
              {"test": "datum.c == 'gd'", "value": "#2f9a3f"},
              {"test": "datum.c == 'rd'", "value": "#f03e3e"}
            ], "value": "#9e3a3a"}
          }
        },
        {
          "data": {"values": [{"a": 0, "b": 294, "z": 0}]},
          "mark": {"type": "rule", "color": "#222222", "strokeDash": [1, 1.5], "strokeWidth": 1.4},
          "encoding": {
            "x": {"field": "a", "type": "quantitative", "scale": {"domain": [0, 451], "nice": false, "zero": false}, "axis": null},
            "x2": {"field": "b"},
            "y": {"field": "z", "type": "quantitative", "scale": {"domain": [-0.414, 0.69], "nice": false, "zero": false},
                  "axis": {"orient": "right", "values": [0, 0.5], "format": ".4f", "title": null}}
          }
        }
      ]
    },
    {
      "width": 902,
      "height": 18,
      "layer": [
        {
          "data": {"values": [{"y": 1}]},
          "mark": {"type": "rule", "color": "#8a8a8a", "strokeWidth": 1},
          "encoding": {
            "y": {"field": "y", "type": "quantitative", "scale": {"domain": [0, 1], "nice": false},
                  "axis": {"orient": "right", "labels": false, "title": null}}
          }
        },
        {
          "data": {"name": "xlab"},
          "mark": {"type": "text", "fontSize": 7, "color": "#4a4a4a", "baseline": "middle"},
          "encoding": {
            "x": {"field": "h", "type": "quantitative", "scale": {"domain": [0, 451], "nice": false, "zero": false}, "axis": null},
            "y": {"datum": 0.55, "type": "quantitative", "scale": {"domain": [0, 1], "nice": false},
                  "axis": {"orient": "right", "labels": false, "title": null}},
            "text": {"field": "t"}
          }
        }
      ]
    }
  ]
}
